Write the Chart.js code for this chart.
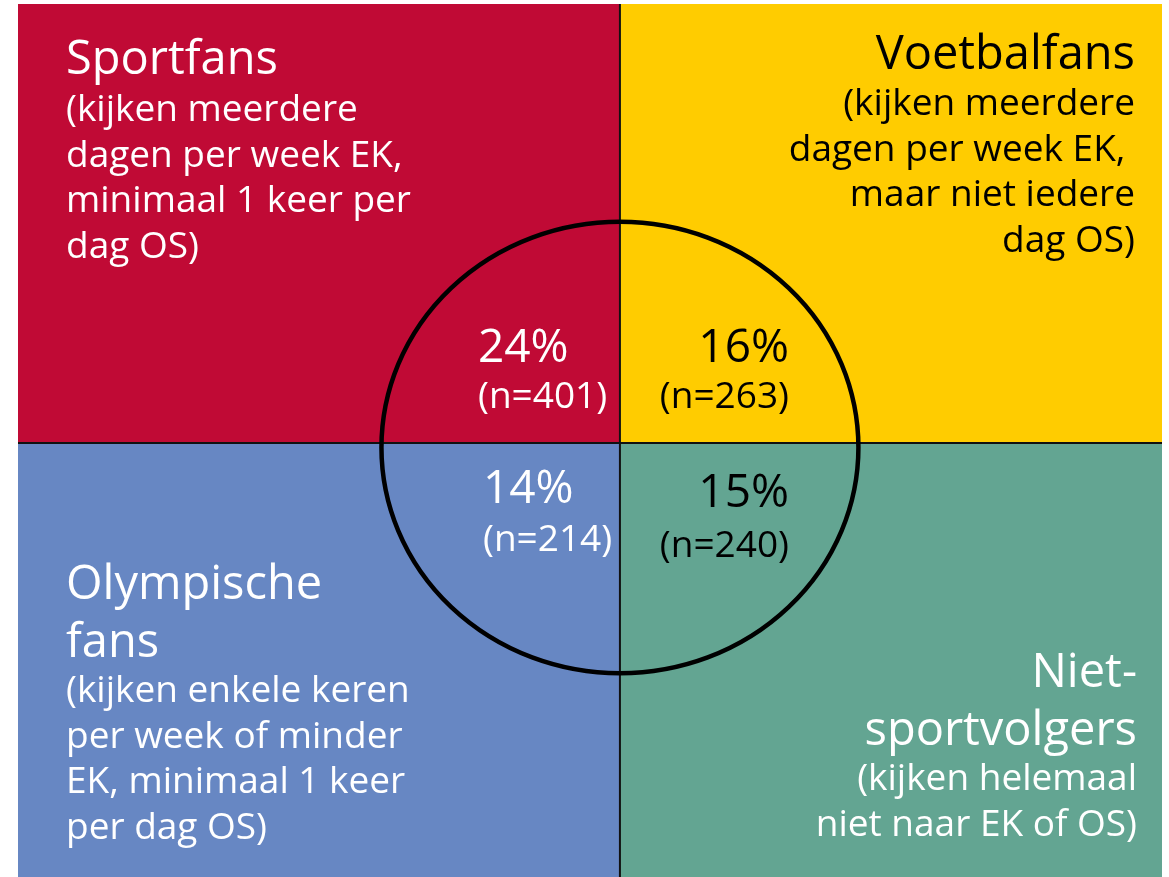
<!DOCTYPE html>
<html lang="nl">
<head>
    <meta charset="UTF-8">
    <title>Sportfans, voetbalfans, Olympische fans en niet-sportvolgers</title>
    <script src="https://cdn.jsdelivr.net/npm/chart.js"></script>
    <style>
        body { margin: 0; background: #ffffff; }
    </style>
</head>
<body>
    <canvas id="segmentChart" width="1169" height="877"></canvas>
    <script>
        // Segments: top-left, top-right, bottom-left, bottom-right
        const segmentTitles = [
            ['Sportfans'],
            ['Voetbalfans'],
            ['Olympische', 'fans'],
            ['Niet-', 'sportvolgers']
        ];
        const segmentDescriptions = [
            ['(kijken meerdere', 'dagen per week EK,', 'minimaal 1 keer per', 'dag OS)'],
            ['(kijken meerdere', 'dagen per week EK, ', 'maar niet iedere', 'dag OS)'],
            ['(kijken enkele keren', 'per week of minder', 'EK, minimaal 1 keer', 'per dag OS)'],
            ['(kijken helemaal', 'niet naar EK of OS)']
        ];
        const segmentShares = [24, 16, 14, 15];
        const segmentCounts = [401, 263, 214, 240];
        const segmentColors = ['#C00A35', '#FFCC00', '#6787C3', '#63A592'];

        // axis bounds, circle radius = 1 unit on both axes
        const X_MIN = -2.524, X_MAX = 2.273;
        const Y_MIN = -1.922, Y_MAX = 1.944;
        const CIRCLE_Y = -0.02;

        function quadrant(i, fromX, toX, fill) {
            return {
                data: [{ x: fromX, y: 0 }, { x: toX, y: 0 }],
                showLine: true,
                pointRadius: 0,
                borderWidth: 0,
                borderColor: segmentColors[i],
                backgroundColor: segmentColors[i],
                fill: fill
            };
        }

        // text layout per segment (pixel anchors)
        const textLayout = [
            { x: 66, align: 'left', titleY: 74, descY: 121, titleColor: '#fff', descColor: '#fff',
              pctX: 478, pctY: 362, nY: 408, pctColor: '#fff' },
            { x: 1135, align: 'right', titleY: 69, descY: 115, titleColor: '#000', descColor: '#000',
              pctX: 789, pctY: 362, nY: 408, pctColor: '#000' },
            { x: 66, align: 'left', titleY: 599, descY: 702, titleColor: '#fff', descColor: '#fff',
              pctX: 483, pctY: 503, nY: 551, pctColor: '#fff' },
            { x: 1137, align: 'right', titleY: 687, descY: 790, titleColor: '#fff', descColor: '#fff',
              pctX: 789, pctY: 507, nY: 557, pctColor: '#000' }
        ];

        const overlayPlugin = {
            id: 'overlay',
            afterDatasetsDraw(chart) {
                const ctx = chart.ctx;
                const xs = chart.scales.x, ys = chart.scales.y;
                const cx = xs.getPixelForValue(0);
                const cy = ys.getPixelForValue(CIRCLE_Y);
                const rx = xs.getPixelForValue(1) - cx;
                const ry = cy - ys.getPixelForValue(CIRCLE_Y + 1);
                ctx.save();
                ctx.beginPath();
                ctx.ellipse(cx, cy, rx, ry, 0, 0, Math.PI * 2);
                ctx.lineWidth = 4.5;
                ctx.strokeStyle = '#000';
                ctx.stroke();

                ctx.textBaseline = 'alphabetic';
                textLayout.forEach((t, i) => {
                    ctx.textAlign = t.align;
                    ctx.fillStyle = t.titleColor;
                    ctx.font = '47px "Open Sans"';
                    segmentTitles[i].forEach((line, j) => ctx.fillText(line, t.x, t.titleY + j * 58));
                    ctx.fillStyle = t.descColor;
                    ctx.font = '37px "Open Sans"';
                    segmentDescriptions[i].forEach((line, j) => ctx.fillText(line, t.x, t.descY + j * 45.5));

                    ctx.fillStyle = t.pctColor;
                    ctx.font = '46px "Open Sans"';
                    ctx.fillText(segmentShares[i] + '%', t.pctX, t.pctY);
                    ctx.font = '37px "Open Sans"';
                    ctx.fillText('(n=' + segmentCounts[i] + ')', t.pctX, t.nY);
                });
                ctx.restore();
            }
        };

        const ctx = document.getElementById('segmentChart').getContext('2d');
        new Chart(ctx, {
            type: 'scatter',
            data: {
                // lower index is drawn on top, so the divider lines come first
                datasets: [
                    {
                        data: [{ x: X_MIN, y: 0 }, { x: X_MAX, y: 0 }],
                        showLine: true, pointRadius: 0, borderWidth: 2, borderColor: '#111', fill: false
                    },
                    {
                        data: [{ x: 0, y: Y_MIN }, { x: 0, y: Y_MAX }],
                        showLine: true, pointRadius: 0, borderWidth: 2, borderColor: '#111', fill: false
                    },
                    quadrant(0, X_MIN, 0, 'end'),
                    quadrant(1, 0, X_MAX, 'end'),
                    quadrant(2, X_MIN, 0, 'start'),
                    quadrant(3, 0, X_MAX, 'start')
                ]
            },
            options: {
                responsive: false,
                animation: false,
                layout: { padding: { left: 18, right: 7, top: 4, bottom: 0 } },
                plugins: {
                    legend: { display: false },
                    tooltip: { enabled: false }
                },
                scales: {
                    x: { type: 'linear', min: X_MIN, max: X_MAX, display: false },
                    y: { type: 'linear', min: Y_MIN, max: Y_MAX, display: false }
                }
            },
            plugins: [overlayPlugin]
        });
    </script>
</body>
</html>
